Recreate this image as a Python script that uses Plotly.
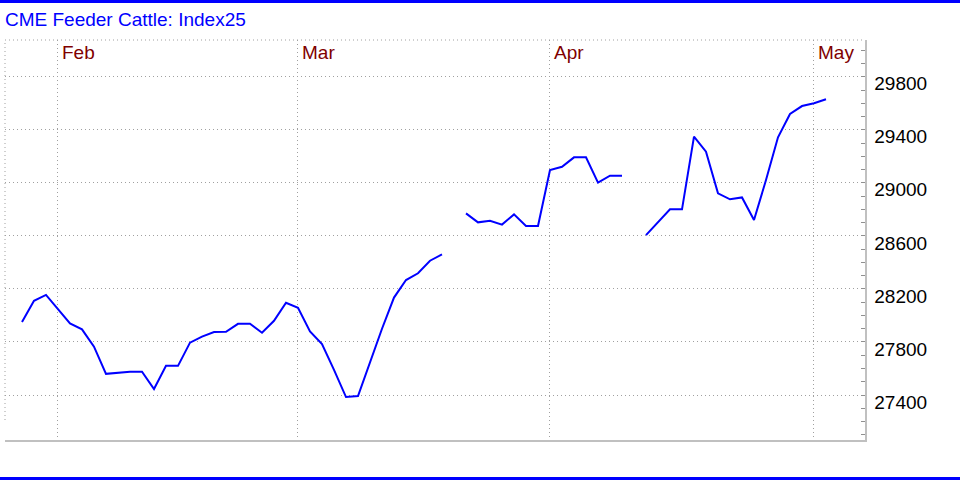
import plotly.graph_objects as go

# ---- data ----
title_text = "CME Feeder Cattle: Index25"
day_index = list(range(68))
index_values = [
    27950, 28110, 28155, 28050, 27940, 27895, 27765, 27560, 27570, 27576,
    27576, 27445, 27620, 27620, 27795, 27840, 27875, 27877, 27937, 27937,
    27870, 27960, 28096, 28058, 27880, 27785, 27590, 27385, 27392, 27650,
    27900, 28135, 28267, 28318, 28413, 28460, None, 28770, 28702, 28714,
    28685, 28762, 28674, 28674, 29097, 29121, 29192, 29192, 29001, 29054,
    29054, None, 28606, 28707, 28800, 28800, 29348, 29235, 28921, 28876,
    28890, 28720, 29021, 29343, 29519, 29579, 29600, 29630,
]
month_start_idx = [3, 23, 44, 66]
month_labels = ["Feb", "Mar", "Apr", "May"]
y_tick_values = [27400, 27800, 28200, 28600, 29000, 29400, 29800]
y_tick_labels = ["27400", "27800", "28200", "28600", "29000", "29400", "29800"]

FONT = "Liberation Sans, Arial, sans-serif"
FS = 19
GRID = "#a0a0a0"
DOT = "1px,3px"

fig = go.Figure()
fig.add_trace(go.Scatter(
    x=day_index, y=index_values, mode="lines",
    line=dict(color="#0000ff", width=2),
    connectgaps=False, hoverinfo="skip", showlegend=False,
))

fig.update_layout(
    width=960, height=480,
    margin=dict(l=5, r=95, t=40, b=40),
    paper_bgcolor="white", plot_bgcolor="white",
    showlegend=False,
    font=dict(family=FONT, size=FS, color="black"),
)

fig.update_xaxes(
    range=[-1.417, 70.25],
    tickmode="array", tickvals=[m - 0.08 for m in month_start_idx],
    showticklabels=False, ticks="",
    showgrid=True, gridcolor=GRID, griddash=DOT, gridwidth=1,
    zeroline=False,
    showline=True, linecolor="#c0c0c0", linewidth=1.5, mirror=False,
)

fig.update_yaxes(
    side="right",
    range=[27061, 30077],
    tickmode="array", tickvals=y_tick_values, ticktext=y_tick_labels,
    ticks="", ticklabelstandoff=4, ticklabelshift=7,
    tickfont=dict(family=FONT, size=FS, color="black"),
    showgrid=True, gridcolor=GRID, griddash=DOT, gridwidth=1,
    zeroline=False,
    showline=True, linecolor="#c0c0c0", linewidth=1.5,
    minor=dict(ticks="inside", ticklen=4, dtick=100, tickcolor="#909090",
               tickwidth=1, showgrid=False),
)

shapes = [
    # top dotted border
    dict(type="line", xref="paper", yref="paper", x0=0, x1=1, y0=1, y1=1,
         line=dict(color=GRID, width=1, dash=DOT)),
    # left dotted border
    dict(type="line", xref="paper", yref="paper", x0=0, x1=0, y0=0.05, y1=1,
         line=dict(color=GRID, width=1, dash=DOT)),
    # top blue rule
    dict(type="line", xref="paper", yref="paper", x0=-0.01, x1=1.12,
         y0=1.0963, y1=1.0963, line=dict(color="#0000ff", width=3)),
    # bottom blue rule
    dict(type="line", xref="paper", yref="paper", x0=-0.01, x1=1.12,
         y0=-0.0963, y1=-0.0963, line=dict(color="#0000ff", width=3)),
]
fig.update_layout(shapes=shapes)

annotations = [
    dict(text=title_text, xref="paper", yref="paper", x=0, y=1.05,
         xanchor="left", yanchor="middle", showarrow=False, xshift=-2,
         font=dict(family=FONT, size=FS, color="#0000ff")),
]
for idx, lab in zip(month_start_idx, month_labels):
    annotations.append(dict(
        text=lab, x=idx, xref="x", y=1, yref="paper",
        xanchor="left", yanchor="top", showarrow=False, xshift=2, yshift=0,
        font=dict(family=FONT, size=FS, color="#800000"),
    ))
fig.update_layout(annotations=annotations)

fig.write_html("out.html",
               config={"displayModeBar": False, "staticPlot": True},
               post_script="document.body.style.margin='0px';document.body.style.overflow='hidden';")
